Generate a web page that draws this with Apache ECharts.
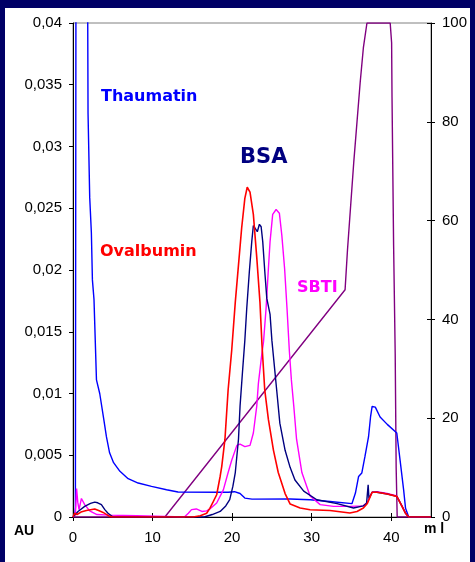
<!DOCTYPE html>
<html>
<head>
<meta charset="utf-8">
<script src="https://cdn.jsdelivr.net/npm/echarts/dist/echarts.min.js"></script>
<style>
  html, body { margin: 0; padding: 0; background: #000066; width: 475px; height: 562px; overflow: hidden; }
  #panel { position: absolute; left: 5px; top: 8px; width: 465px; height: 554px; background: #ffffff; }
  #chart { position: absolute; left: 0; top: 0; width: 475px; height: 562px; }
</style>
</head>
<body>
<div id="panel"></div>
<div id="chart"></div>
<script>
// ---- data (x: ml, left axis: AU, right axis: %) ----
const xTicks = [0, 10, 20, 30, 40];
const auTicks = [0, 0.005, 0.01, 0.015, 0.02, 0.025, 0.03, 0.035, 0.04];
const pctTicks = [0, 20, 40, 60, 80, 100];
const seriesNames = ['Thaumatin', 'BSA', 'Ovalbumin', 'SBTI', 'Gradient'];

const thaumatin = [
  [0,0],[0.25,0.0003],[0.3,0.0008],[0.4,0.06],[1.75,0.06],[1.89,0.0327],[2.10,0.0259],[2.31,0.0230],
  [2.44,0.0192],[2.64,0.0176],[2.95,0.0111],[3.36,0.0100],[3.87,0.0079],[4.2,0.0065],[4.6,0.0052],
  [5.1,0.0044],[5.9,0.0037],[6.93,0.0031],[8.19,0.00275],[9.87,0.00248],[11.76,0.00221],[13.2,0.00202],
  [18.5,0.0020],[19.5,0.0020],[20.3,0.00205],[21.0,0.0019],[21.6,0.00153],[22.5,0.00145],[27.3,0.00146],
  [29.8,0.0014],[32.3,0.00126],[35.06,0.00108],[35.5,0.00194],[35.9,0.00328],[36.3,0.00356],[36.7,0.0049],
  [37.15,0.0065],[37.4,0.0081],[37.6,0.00895],[38.0,0.0089],[38.6,0.0081],[39.5,0.0075],[40.7,0.0068],
  [41.15,0.0044],[41.56,0.0022],[41.8,0.0007],[42.2,0],[45,0]
];
const bsa = [
  [0,0],[0.2,0.0001],[0.63,0.00045],[1.47,0.00086],[2.2,0.0011],[2.73,0.0012],[3.1,0.00115],[3.57,0.001],
  [4.0,0.0006],[4.4,0.0003],[5.04,0],[16.5,0],[17.5,0.0002],[18.5,0.00045],[19.2,0.0009],[19.7,0.0014],
  [20.1,0.0025],[20.4,0.0036],[20.8,0.0063],[21.0,0.009],[21.3,0.0117],[21.6,0.0143],[21.84,0.0169],
  [22.17,0.0199],[22.47,0.0223],[22.67,0.0236],[22.9,0.0237],[23.17,0.0231],[23.43,0.0237],[23.65,0.0235],
  [23.85,0.0223],[24.14,0.0196],[24.36,0.0177],[24.77,0.0164],[25.0,0.0143],[25.6,0.0103],[26.0,0.0076],
  [26.66,0.0054],[27.3,0.0040],[27.9,0.0030],[29.0,0.0021],[30.65,0.0014],[33.2,0.00108],[35.26,0.00073],
  [36.5,0.0009],[36.9,0.0011],[37.1,0.0026],[37.2,0.0015],[37.6,0.0020],[38.2,0.0020],[39.5,0.00186],
  [40.7,0.00167],[41.36,0.00086],[41.8,0.0003],[42.2,0],[45,0]
];
const ovalbumin = [
  [0,0],[0.2,0.0003],[0.5,0.0002],[1.0,0.0004],[1.68,0.00053],[2.73,0.00065],[3.3,0.0005],[3.78,0.00037],
  [4.6,0.00005],[5,0],[15.1,0],[16.0,0.0001],[16.8,0.0003],[17.2,0.0007],[17.6,0.0012],[18.06,0.0018],
  [18.5,0.0033],[18.7,0.0041],[19.1,0.0063],[19.5,0.0103],[19.95,0.0135],[20.4,0.0174],[20.8,0.0204],
  [21.2,0.0234],[21.6,0.0258],[21.9,0.0267],[22.25,0.0263],[22.67,0.0245],[23.1,0.0210],[23.5,0.0174],
  [23.75,0.0140],[24.1,0.0103],[24.56,0.0079],[25.2,0.0054],[25.8,0.0036],[26.66,0.0019],[27.3,0.00105],
  [28.55,0.00073],[29.8,0.00059],[32.3,0.00053],[34.8,0.00032],[35.7,0.00045],[36.5,0.00073],[37.0,0.0011],
  [37.6,0.0020],[38.2,0.0020],[39.5,0.00186],[40.7,0.00167],[41.36,0.00086],[41.8,0.0003],[42.2,0],[45,0]
];
const sbti = [
  [0,0],[0.3,0.0002],[0.45,0.0023],[0.6,0.0012],[0.76,0.0006],[1.06,0.0015],[1.18,0.0014],[1.47,0.001],
  [2.1,0.0005],[3,0.0002],[4.6,0.00015],[8.0,0.0001],[8.1,0],[14.0,0],[14.5,0.0003],[14.9,0.0006],
  [15.5,0.00065],[16.2,0.00045],[16.8,0.0005],[17.2,0.00065],[18.06,0.00113],[18.9,0.0022],[19.5,0.0036],
  [19.95,0.0046],[20.6,0.0058],[21.0,0.0059],[21.6,0.0057],[22.25,0.0058],[22.67,0.0068],[23.1,0.0090],
  [23.3,0.0108],[23.7,0.0130],[23.95,0.0142],[24.27,0.0169],[24.56,0.0201],[24.77,0.0223],[25.1,0.0245],
  [25.53,0.0249],[25.94,0.0246],[26.25,0.0228],[26.6,0.0201],[26.9,0.0169],[27.2,0.0134],[27.45,0.0111],
  [27.75,0.0090],[28.1,0.0063],[28.77,0.0036],[29.8,0.0017],[31.07,0.0010],[32.75,0.00086],[34.85,0.00086],
  [36.5,0.0009],[37.0,0.0012],[37.6,0.0020],[38.2,0.00205],[39.5,0.0019],[40.7,0.0017],[41.36,0.0009],
  [41.8,0.0003],[42.2,0],[45,0]
];
const gradient = [
  [0,0],[11.55,0],[34.2,46],[34.5,54],[34.9,63],[35.3,72],[35.7,80],[36.1,88],[36.5,95],[36.95,100],
  [39.87,100],[40.05,96],[40.1,85],[40.3,55],[40.5,33],[40.62,10],[40.75,0],[45,0]
];

const colors = { Thaumatin: '#0000ff', BSA: '#000080', Ovalbumin: '#ff0000', SBTI: '#ff00ff', Gradient: '#800080' };
const axisFont = '"Liberation Sans", Arial, sans-serif';
const annFont = '"DejaVu Sans", sans-serif';

function fmtAU(v) {
  if (Math.abs(v) < 1e-9) return '0';
  return v.toFixed(3).replace(/0+$/, '').replace('.', ',');
}

const chart = echarts.init(document.getElementById('chart'), null, { renderer: 'canvas' });

function lineSeries(name, data, yIdx, width) {
  return {
    name: name, type: 'line', data: data, xAxisIndex: 0, yAxisIndex: yIdx,
    showSymbol: false, symbol: 'none', clip: true, animation: false,
    lineStyle: { color: colors[name], width: width }, itemStyle: { color: colors[name] },
    emphasis: { disabled: true }
  };
}

const option = {
  animation: false,
  backgroundColor: 'transparent',
  grid: { left: 73, top: 23, width: 358, height: 494, show: true, borderColor: '#808080', borderWidth: 1, backgroundColor: 'transparent' },
  xAxis: [
    {
      type: 'value', min: xTicks[0], max: 45, interval: 10, position: 'bottom',
      axisLine: { show: true, onZero: false, lineStyle: { color: '#000', width: 1 } },
      axisTick: { show: true, length: 4, lineStyle: { color: '#000' } },
      axisLabel: { show: true, fontSize: 15, color: '#000', fontFamily: axisFont, margin: 13, showMaxLabel: false },
      splitLine: { show: false }
    },
    {
      type: 'value', min: xTicks[0], max: 45, interval: 10, position: 'bottom',
      axisLine: { show: false, onZero: false },
      axisTick: { show: true, inside: true, length: 4, lineStyle: { color: '#000' } },
      axisLabel: { show: false }, splitLine: { show: false }
    }
  ],
  yAxis: [
    {
      type: 'value', min: auTicks[0], max: auTicks[auTicks.length - 1], interval: 0.005, position: 'left',
      axisLine: { show: true, onZero: false, lineStyle: { color: '#000', width: 1 } },
      axisTick: { show: true, length: 4, lineStyle: { color: '#000' } },
      axisLabel: { show: true, fontSize: 15, color: '#000', fontFamily: axisFont, margin: 11, formatter: fmtAU },
      splitLine: { show: false }
    },
    {
      type: 'value', min: pctTicks[0], max: pctTicks[pctTicks.length - 1], interval: 20, position: 'right',
      axisLine: { show: true, onZero: false, lineStyle: { color: '#000', width: 1 } },
      axisTick: { show: true, length: 4, lineStyle: { color: '#000' } },
      axisLabel: { show: true, fontSize: 15, color: '#000', fontFamily: axisFont, margin: 11 },
      splitLine: { show: false }
    },
    {
      type: 'value', min: pctTicks[0], max: pctTicks[pctTicks.length - 1], interval: 20, position: 'right',
      axisLine: { show: false, onZero: false },
      axisTick: { show: true, inside: true, length: 4, lineStyle: { color: '#000' } },
      axisLabel: { show: false }, splitLine: { show: false }
    }
  ],
  series: [
    lineSeries('Gradient', gradient, 1, 1.4),
    lineSeries('Thaumatin', thaumatin, 0, 1.4),
    lineSeries('SBTI', sbti, 0, 1.4),
    lineSeries('BSA', bsa, 0, 1.4),
    lineSeries('Ovalbumin', ovalbumin, 0, 1.6)
  ],
  graphic: [
    { type: 'text', x: 101, y: 97, style: { text: seriesNames[0], fill: colors.Thaumatin, font: 'bold 16px ' + annFont, textAlign: 'left', textVerticalAlign: 'middle' } },
    { type: 'text', x: 240, y: 158, style: { text: seriesNames[1], fill: colors.BSA, font: 'bold 21px ' + annFont, textAlign: 'left', textVerticalAlign: 'middle' } },
    { type: 'text', x: 100, y: 252, style: { text: seriesNames[2], fill: colors.Ovalbumin, font: 'bold 16px ' + annFont, textAlign: 'left', textVerticalAlign: 'middle' } },
    { type: 'text', x: 297, y: 288, style: { text: seriesNames[3], fill: colors.SBTI, font: 'bold 16px ' + annFont, textAlign: 'left', textVerticalAlign: 'middle' } },
    { type: 'text', x: 14, y: 531, style: { text: 'AU', fill: '#000', font: 'bold 14px ' + axisFont, textAlign: 'left', textVerticalAlign: 'middle' } },
    { type: 'text', x: 424, y: 529, style: { text: 'm l', fill: '#000', font: 'bold 14px ' + axisFont, textAlign: 'left', textVerticalAlign: 'middle' } }
  ]
};
chart.setOption(option);
</script>
</body>
</html>
